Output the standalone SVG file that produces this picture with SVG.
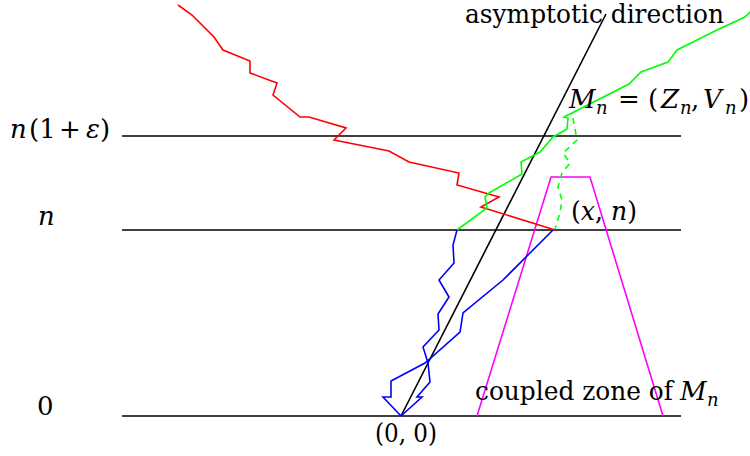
<svg xmlns="http://www.w3.org/2000/svg" width="750" height="456" viewBox="0 0 750 456">
<style>
.ax{stroke:#000;stroke-width:1.6;fill:none}
.p{fill:none;stroke-width:1.6;stroke-linejoin:miter}
.t{font-family:'DejaVu Serif','Liberation Serif','Times New Roman',serif;font-size:26px;fill:#000}
.i{font-style:italic}
.s{font-size:18px;font-style:italic}
</style>
<rect width="750" height="456" fill="#fff"/>
<g id="levels">
<line class="ax" x1="122" y1="136" x2="681" y2="136"/>
<line class="ax" x1="122" y1="230" x2="681" y2="230"/>
<line class="ax" x1="122" y1="416" x2="681" y2="416"/>
</g>
<g id="connectors">
<line id="asymptote" class="ax" x1="401" y1="416" x2="606" y2="14"/>
<polyline id="zone" class="p" stroke="#ff00ff" points="477,416 551,177 590,177 663,416"/>
<polyline id="red" class="p" stroke="#ff0000" points="178,5 192,15 214,37 223,50 250,61 250,73 277,83 273,95 300,117 309,117 346,128 334,140 389,151 409,162 459,173 457,185 499,197 481,207 555,230"/>
<polyline id="green" class="p" stroke="#00ff00" points="457,230 487,208 485,197 489,193 522,174 521,162 540,152 553,137 567,129 568,118 564,117 629,84 641,72 668,62 677,50 717,30 745,17 750,12"/>
<polyline id="greenDash" class="p" stroke="#00ff00" stroke-dasharray="6,5" points="573,118 577,140 563,153 570,163 562,173 558,187 562,200 560,213 555,229"/>
<polyline id="blueA" class="p" stroke="#0000ff" points="457,230 453,245 454,263 439,280 449,297 438,314 439,330 423,347 428,363 430,382 417,397 422,397 401,416"/>
<polyline id="blueB" class="p" stroke="#0000ff" points="553,230 503,280 463,313 460,332 425,363 391,381 391,397 383,397 401,416"/>
</g>
<g id="labels">
<text class="t" x="465" y="23" textLength="259" lengthAdjust="spacingAndGlyphs">asymptotic direction</text>
<g id="mn">
<text class="t i" x="569" y="108">M</text>
<text class="t s" x="596" y="114">n</text>
<text class="t" x="618" y="108">=</text>
<text class="t" x="648" y="108">(</text>
<text class="t i" x="661" y="108">Z</text>
<text class="t s" x="680" y="114">n</text>
<text class="t" x="691" y="108">,</text>
<text class="t i" x="703" y="108">V</text>
<text class="t s" x="725" y="114">n</text>
<text class="t" x="739" y="108">)</text>
</g>
<g id="lvl-eps">
<text class="t i" x="10" y="138">n</text>
<text class="t" x="29" y="138">(1</text>
<text class="t" x="59" y="138">+</text>
<text class="t i" x="86" y="138">ε</text>
<text class="t" x="100" y="138">)</text>
</g>
<text class="t i" x="38" y="225">n</text>
<text class="t" x="37" y="415">0</text>
<text class="t" x="571" y="220" textLength="66" lengthAdjust="spacingAndGlyphs">(<tspan class="i">x</tspan>, <tspan class="i">n</tspan>)</text>
<text class="t" x="475" y="400" textLength="198" lengthAdjust="spacingAndGlyphs">coupled zone of</text>
<text class="t i" x="680" y="400">M</text>
<text class="t s" x="707" y="406">n</text>
<text class="t" x="375" y="442" textLength="62" lengthAdjust="spacingAndGlyphs">(0, 0)</text>
</g>
</svg>
